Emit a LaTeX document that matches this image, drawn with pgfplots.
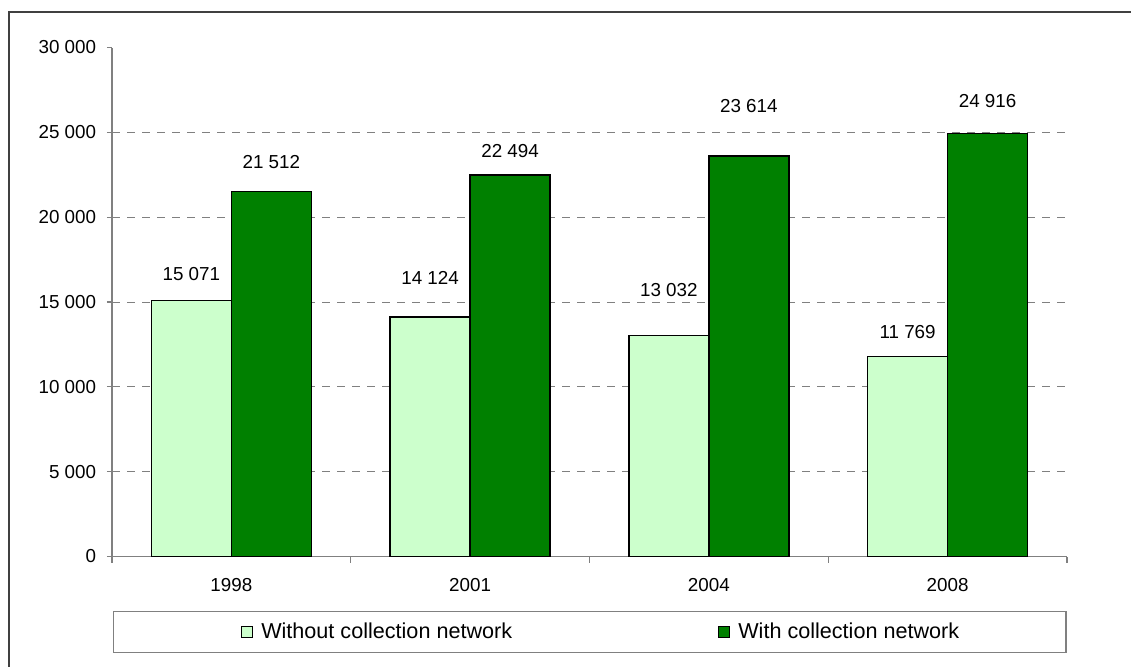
\documentclass[border=0pt]{standalone}
\usepackage{pgfplots}
\pgfplotsset{compat=1.18}
\usepackage{pgfplotstable}
\usepackage{fontspec}
\setmainfont{Liberation Sans}

\definecolor{lightbar}{HTML}{CCFFCC}
\definecolor{darkbar}{HTML}{008000}
\definecolor{axisgray}{HTML}{808080}
\definecolor{framegray}{HTML}{404040}

% x = position, y = value, off = label lift above the bar top (pt)
\pgfplotstableread{
x y off
0 15071 13.5
1 14124 19.5
2 13032 22.5
3 11769 12.5
}\without
\pgfplotstableread{
x y off
0 21512 14.5
1 22494 12
2 23614 25
3 24916 16.3
}\withnet

\begin{document}
\begin{tikzpicture}
    \useasboundingbox (0pt,0pt) rectangle (565.5pt,333pt);
    % chart area frame (runs off the right and bottom edges)
    \draw[framegray, line width=0.65pt] (4.5pt,-20pt) -- (4.5pt,327pt) -- (600pt,327pt);
    % legend frame
    \draw[axisgray, line width=0.6pt] (56.75pt,6.85pt) rectangle (533pt,27.15pt);

    \begin{axis}[
        at = {(56pt,54.75pt)},
        anchor = south west,
        scale only axis,
        width = 477.5pt, height = 254.5pt,
        font = \fontsize{9.4}{11}\selectfont,
        xmin = -0.5, xmax = 3.5,
        ymin = 0, ymax = 30000,
        scaled y ticks = false,
        axis lines* = left,
        axis line style = {axisgray, line width=0.6pt},
        tick style = {axisgray, line width=0.6pt},
        tick align = outside,
        major tick length = 2.5pt,
        minor tick length = 3pt,
        xtick = {0,1,2,3},
        xticklabels = {1998,2001,2004,2008},
        minor xtick = {-0.5,0.5,1.5,2.5,3.5},
        major x tick style = {draw=none},
        xticklabel style = {yshift=-5.1pt},
        ytick = {0,5000,10000,15000,20000,25000},
        yticklabels = {0,5 000,10 000,15 000,20 000,25 000},
        extra y ticks = {30000},
        extra y tick labels = {30 000},
        extra y tick style = {grid=none},
        yticklabel style = {xshift=-1.9pt},
        ymajorgrids,
        major grid style = {axisgray, line width=0.5pt, dash pattern=on 4pt off 3.5pt},
        ybar = 0pt,
        bar width = 40pt,
        nodes near coords = {\pgfmathprintnumber[fixed, precision=0, 1000 sep={\ }, assume math mode=true]{\pgfplotspointmeta}},
        visualization depends on = {\thisrow{off} \as \labeloff},
        every node near coord/.append style = {anchor=center, yshift=\labeloff pt, black},
        legend columns = 2,
        legend style = {
            draw=none, fill=none, inner sep=0pt,
            at={(0.1348,-0.1483)}, anchor=west,
            font=\fontsize{10.8}{13}\selectfont,
            /tikz/every even column/.append style={column sep=101pt}
        },
        legend image code/.code = {
            \draw[#1, line width=0.5pt] (0pt,-2.75pt) rectangle (5.5pt,2.75pt);
            \path (7.5pt,0pt);
        }
    ]
    \addplot[fill=lightbar, draw=black, line width=0.65pt] table[x=x, y=y] {\without};
    \addplot[fill=darkbar, draw=black, line width=0.65pt] table[x=x, y=y] {\withnet};
    \legend{Without collection network, With collection network}
    \end{axis}
\end{tikzpicture}
\end{document}
